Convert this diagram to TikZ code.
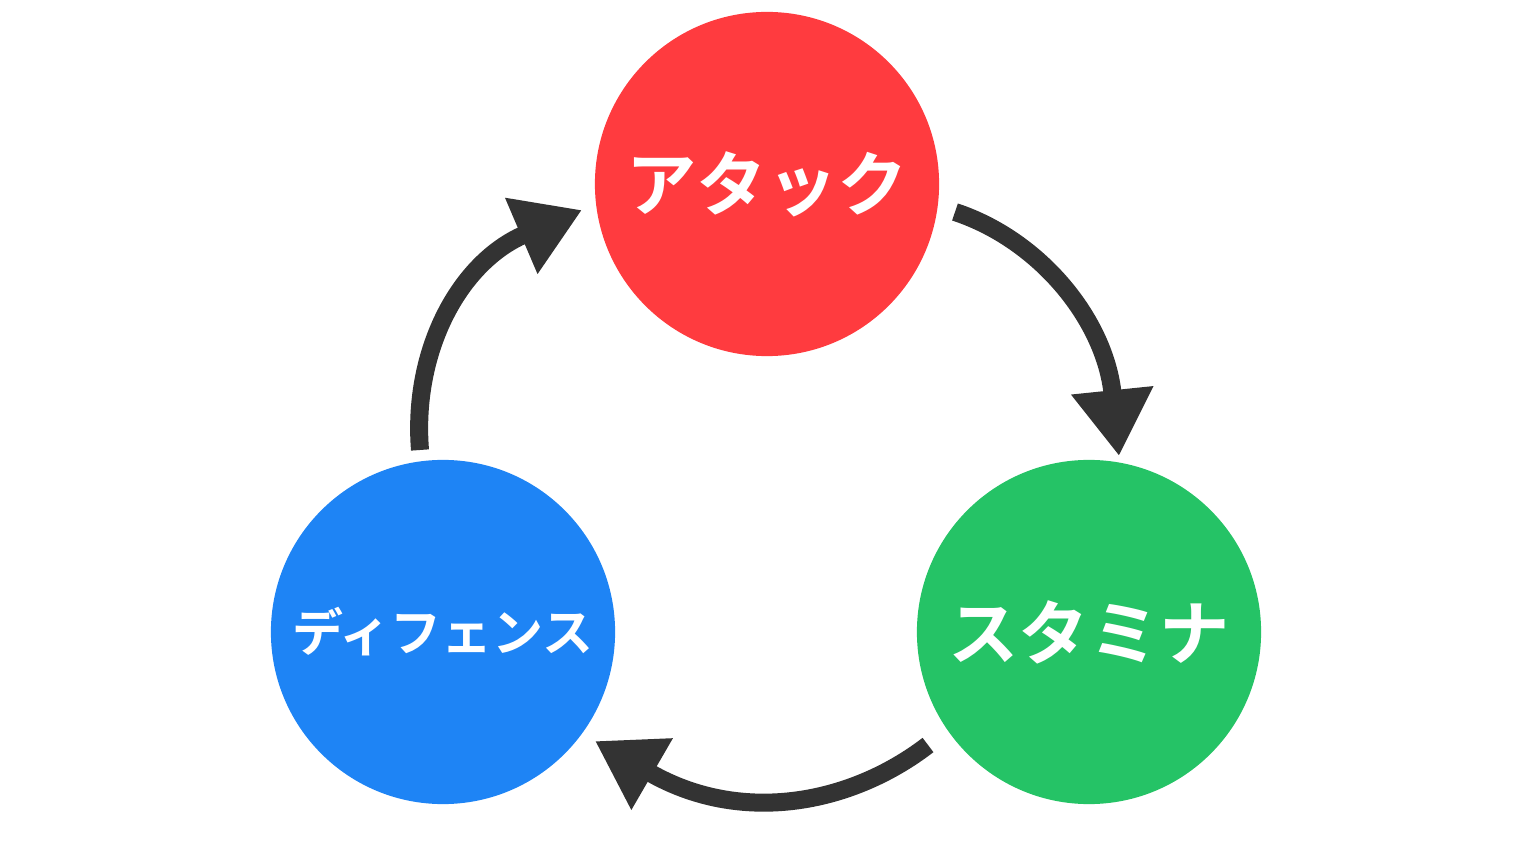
\documentclass[tikz,border=0pt]{standalone}
\usepackage{fontspec}
\newfontfamily\cjk{Noto Sans CJK JP}[BoldFont={Noto Sans CJK JP Bold}]
\usetikzlibrary{arrows.meta}
\definecolor{cred}{HTML}{FF3B3F}
\definecolor{cblue}{HTML}{1E84F5}
\definecolor{cgreen}{HTML}{25C366}
\definecolor{carrow}{HTML}{333333}
\begin{document}
\begin{tikzpicture}[x=0.01cm,y=-0.01cm,
 ball/.style={circle,minimum size=3.44cm,inner sep=0pt,text=white,font=\cjk\bfseries\fontsize{20}{22}\selectfont},
 arr/.style={draw=carrow,line width=0.18cm,-{Triangle[length=0.66cm,width=0.78cm]}}]
\useasboundingbox (0,0) rectangle (1536,864);
\node[ball,fill=cred] (a) at (767,184) {アタック};
\node[ball,fill=cgreen] (s) at (1089,632) {スタミナ};
\node[ball,fill=cblue,font=\cjk\bfseries\fontsize{14.5}{17}\selectfont] (d) at (443,632) {ディフェンス};
\coordinate (a1) at (955,212); \coordinate (a2) at (1119,456);
\coordinate (b1) at (928,745); \coordinate (b2) at (595,741);
\coordinate (c1) at (420,450); \coordinate (c2) at (582,210);
\draw[arr] (a1) .. controls (1040,240) and (1105,320) .. (a2);
\draw[arr] (b1) .. controls (850,805) and (740,825) .. (b2);
\draw[arr] (c1) .. controls (412,350) and (460,262) .. (c2);
\end{tikzpicture}
\end{document}
